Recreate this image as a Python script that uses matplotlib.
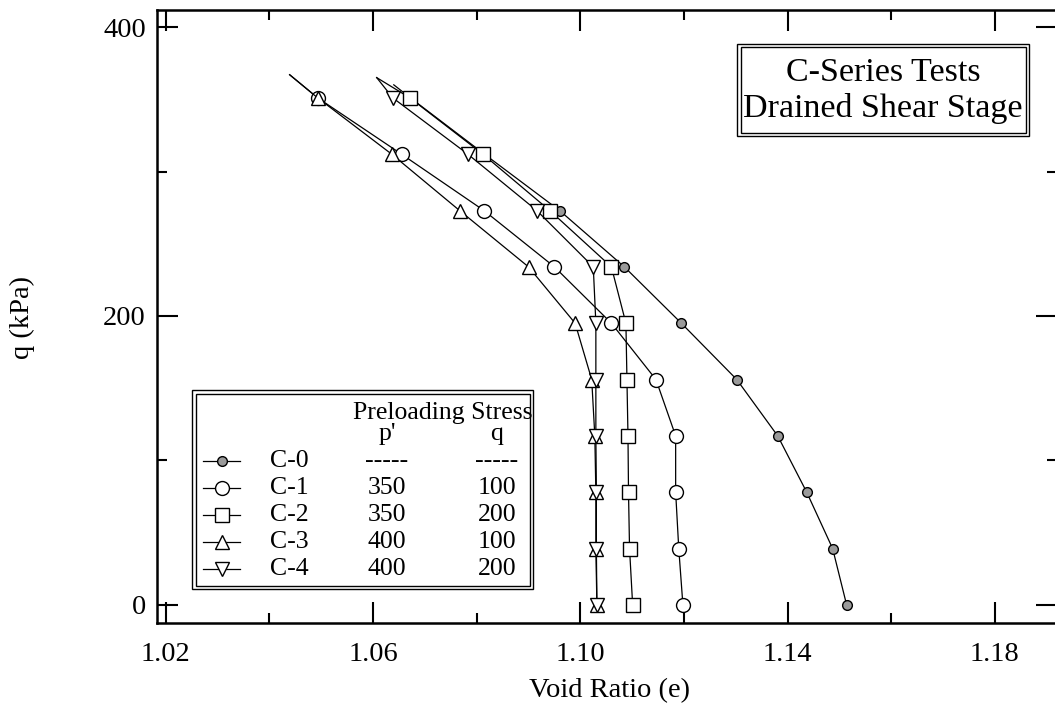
import matplotlib
matplotlib.use('Agg')
import numpy as np
import matplotlib.pyplot as plt
from matplotlib.patches import Rectangle
from matplotlib.lines import Line2D

#Data (q in kPa at each marker, void ratio for each test)
q_marks = [0, 39, 78, 117, 156, 195, 234, 273, 312, 351]
e_c0 = [1.1514, 1.1487, 1.1437, 1.1381, 1.1302, 1.1195, 1.1085, 1.0960, 1.0815, 1.0672]
e_c1 = [1.1198, 1.1190, 1.1184, 1.1184, 1.1146, 1.1060, 1.0950, 1.0814, 1.0655, 1.0493]
e_c2 = [1.1101, 1.1095, 1.1093, 1.1092, 1.1090, 1.1088, 1.1060, 1.0941, 1.0812, 1.0671]
e_c3 = [1.1032, 1.1030, 1.1030, 1.1028, 1.1022, 1.0990, 1.0900, 1.0767, 1.0636, 1.0493]
e_c4 = [1.1032, 1.1031, 1.1031, 1.1030, 1.1030, 1.1030, 1.1025, 1.0916, 1.0783, 1.0638]
#line continues past the last marker
q_end = [360, 367, 365, 367, 365]
e_end = [1.0640, 1.0439, 1.0607, 1.0439, 1.0607]

names = ['C-0', 'C-1', 'C-2', 'C-3', 'C-4']
p_pre = ['-----', '350', '350', '400', '400']
q_pre = ['-----', '100', '200', '100', '200']

#--------------------------------------------------------------------------------
plt.rcParams['font.family'] = ['Liberation Serif', 'DejaVu Serif']

styles = [
    dict(marker='o', ms=7, mfc='#9a9a9a', mec='black', mew=1.0),
    dict(marker='o', ms=10, mfc='white', mec='black', mew=1.0),
    dict(marker='s', ms=10, mfc='white', mec='black', mew=1.0),
    dict(marker='^', ms=10, mfc='white', mec='black', mew=1.0),
    dict(marker='v', ms=10, mfc='white', mec='black', mew=1.0),
]

#axes spans px 157..1057 (right spine just off the canvas)
fig = plt.figure(figsize=(10.55, 7.22), dpi=100)
ax = fig.add_axes([157/1055, 99/722, 900/1055, 613/722])
ax_w, ax_h = 900, 613

series = [e_c0, e_c1, e_c2, e_c3, e_c4]
for i, e in enumerate(series):
    xs = list(e) + [e_end[i]]
    ys = list(q_marks) + [q_end[i]]
    ax.plot(xs, ys, color='black', lw=0.9, markevery=list(range(len(e))), **styles[i])

ax.set_xlim(1.0183, 1.1920)
ax.set_ylim(-12.5, 411.8)
ax.set_xticks(np.arange(1.02, 1.19, 0.04))
ax.set_xticklabels(['1.02', '1.06', '1.10', '1.14', '1.18'])
ax.set_xticks(np.arange(1.04, 1.19, 0.04), minor=True)
ax.set_yticks([0, 200, 400])
ax.set_yticks([100, 300], minor=True)
ax.tick_params(which='both', direction='in', top=True, right=True, width=1.5, labelsize=20.5)
ax.tick_params(which='major', length=15)
ax.tick_params(which='minor', length=7.5)
ax.tick_params(axis='x', pad=14)
ax.tick_params(axis='y', pad=8)
for s in ax.spines.values():
    s.set_linewidth(1.8)

fig.text(0.578, 0.044, 'Void Ratio (e)', fontsize=20.5, ha='center', va='center')
fig.text(0.021, 0.56, 'q (kPa)', fontsize=20.5, ha='center', va='center', rotation=90)

#boxes, in pixel offsets turned into axes fractions
def px(x):
    return (x - 157) / ax_w

def py(y):
    return (623 - y) / ax_h

def double_box(x0, y0, x1, y1, gap=3.5):
    ax.add_patch(Rectangle((px(x0), py(y1)), px(x1) - px(x0), py(y0) - py(y1),
                           transform=ax.transAxes, fc='white', ec='black', lw=1.0, zorder=5))
    ax.add_patch(Rectangle((px(x0 + gap), py(y1 - gap)), px(x1 - gap) - px(x0 + gap),
                           py(y0 + gap) - py(y1 - gap), transform=ax.transAxes,
                           fill=False, ec='black', lw=1.0, zorder=5))

#Title box
double_box(737, 44, 1029, 136)
ax.text(px(883), py(73), 'C-Series Tests', transform=ax.transAxes, fontsize=24.5,
        ha='center', va='center', zorder=6)
ax.text(px(883), py(109), 'Drained Shear Stage', transform=ax.transAxes, fontsize=24.5,
        ha='center', va='center', zorder=6)

#Legend box
double_box(192, 390, 533, 589)
ax.text(px(443), py(413), 'Preloading Stress', transform=ax.transAxes, fontsize=18.5,
        ha='center', va='center', zorder=6)
ax.text(px(387), py(434), "p'", transform=ax.transAxes, fontsize=18.5, ha='center', va='center', zorder=6)
ax.text(px(497), py(434), 'q', transform=ax.transAxes, fontsize=18.5, ha='center', va='center', zorder=6)
rows_px = [461, 488, 515, 542, 569]
for i in range(5):
    yy = py(rows_px[i])
    ax.add_line(Line2D([px(203), px(240)], [yy, yy], transform=ax.transAxes, color='black',
                       lw=0.9, zorder=6))
    ax.add_line(Line2D([px(222)], [yy], transform=ax.transAxes, color='black', zorder=7,
                       linestyle='none', **styles[i]))
    ax.text(px(270), yy, names[i], transform=ax.transAxes, fontsize=18.5, ha='left', va='center', zorder=6)
    ax.text(px(387), yy, p_pre[i], transform=ax.transAxes, fontsize=18.5, ha='center', va='center', zorder=6)
    ax.text(px(497), yy, q_pre[i], transform=ax.transAxes, fontsize=18.5, ha='center', va='center', zorder=6)

plt.savefig('out.png', dpi=100)
